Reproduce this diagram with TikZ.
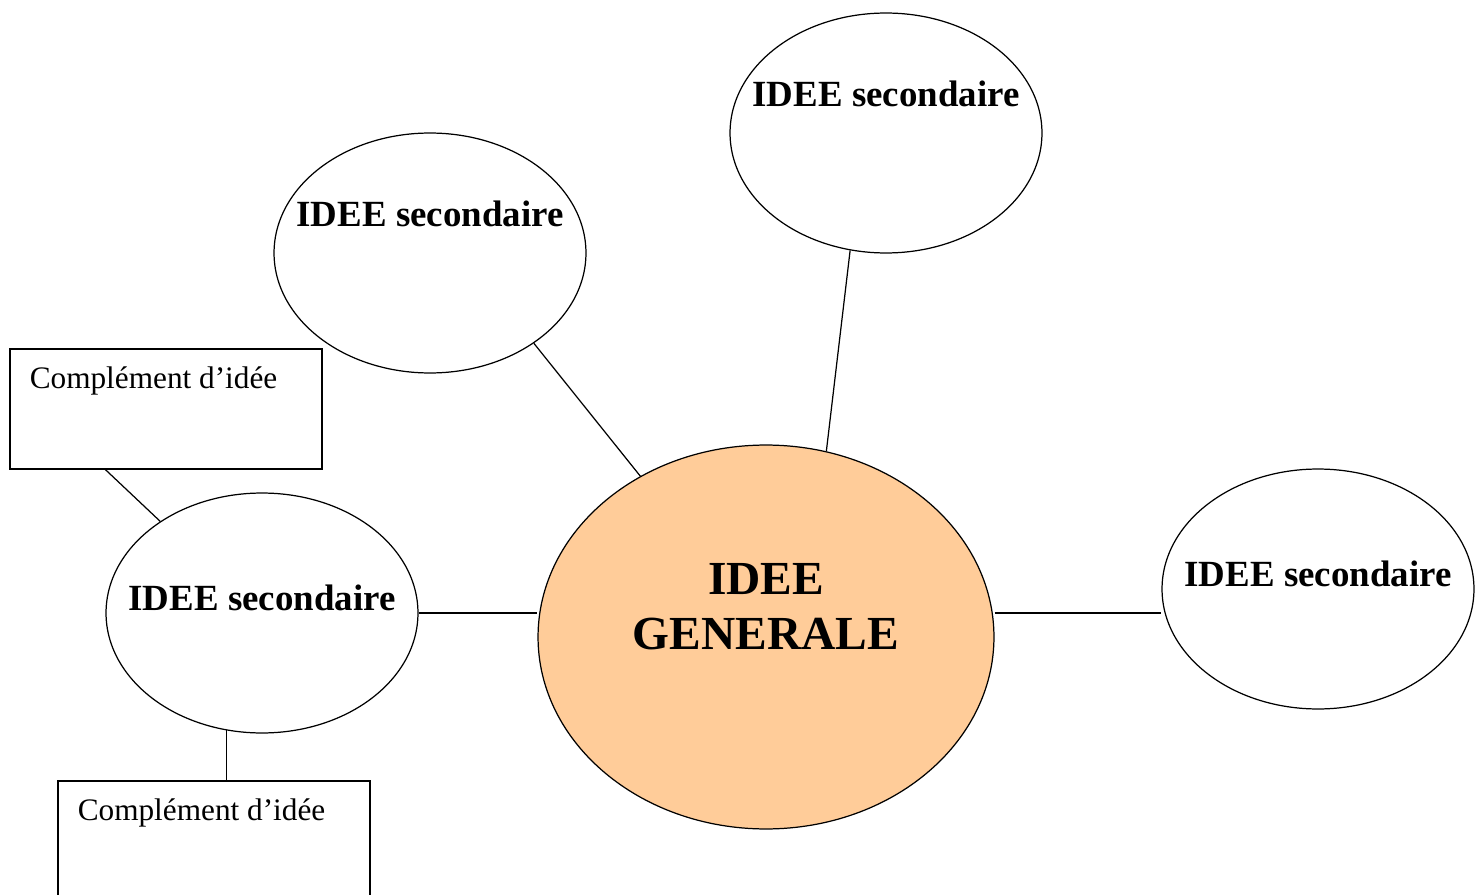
\documentclass[tikz,border=0pt]{standalone}
\usepackage{fontspec}
\setmainfont{Liberation Serif}
\usepackage{tikz}
\usetikzlibrary{shapes.geometric,positioning}
\definecolor{peach}{HTML}{FFCC99}

\begin{document}
\begin{tikzpicture}[x=0.02cm,y=-0.02cm,
  ln/.style={draw=black,line width=0.7pt},
  sec/.style={ln,ellipse,minimum width=6.24cm,minimum height=4.8cm,inner sep=0pt},
  st/.style={font=\fontsize{21}{25}\selectfont\bfseries},
  gen/.style={ln,ellipse,fill=peach,minimum width=9.12cm,minimum height=7.68cm,inner sep=0pt},
  cb/.style={ln,rectangle,minimum width=6.24cm,minimum height=2.4cm,inner sep=0pt},
  ct/.style={font=\fontsize{17.8}{21}\selectfont,anchor=base west,inner sep=0pt,xshift=0.4cm,yshift=-0.8cm}]
\useasboundingbox (0,0) rectangle (1484,895);

\node[gen] (gen) at (766,637) {};
\node[align=center,font=\fontsize{27}{31.3}\selectfont\bfseries] (gent) at (766,607) {IDEE\\GENERALE};

\node[sec,label={[st,yshift=0.78cm]center:IDEE secondaire}] (top) at (886,133) {};
\node[sec,label={[st,yshift=0.78cm]center:IDEE secondaire}] (ul)  at (430,253) {};
\node[sec,label={[st,yshift=0.3cm]center:IDEE secondaire}]  (ls)  at (262,613) {};
\node[sec,label={[st,yshift=0.3cm]center:IDEE secondaire}]  (rs)  at (1318,589) {};

\node[cb,label={[ct]north west:Complément d'idée}] (c1) at (166,409) {};
\node[cb,label={[ct]north west:Complément d'idée}] (c2) at (214,841) {};

% branches to the main idea
\draw[ln] (ul.-41.6) -- (gen.128);
\draw[ln] (top.-107) -- (gen.72.5);
\draw[ln] (ls.east) -- (ls.east -| gen.west);
\draw[ln] (gen.east |- ls.east) -- (rs.west |- ls.east);

% complements hang on the left idea
\draw[ln] ([xshift=1.92cm]c1.south west) -- (ls.138.4);
\draw[ln] (ls.-107) -- (ls.-107 |- c2.north);
\end{tikzpicture}
\end{document}
